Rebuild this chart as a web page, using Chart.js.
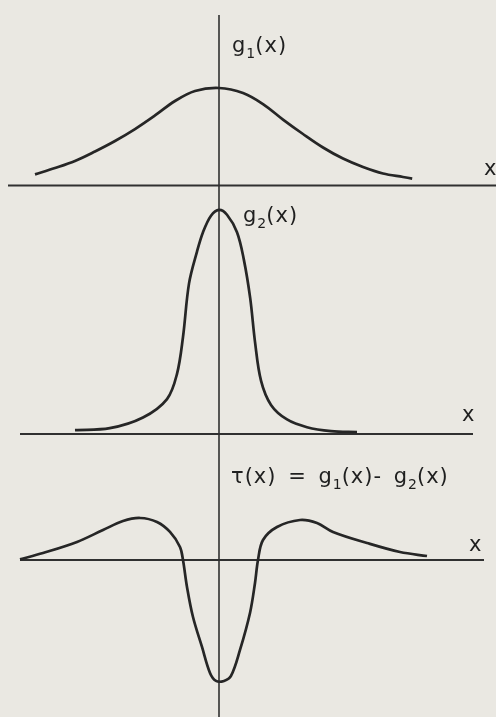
<!DOCTYPE html>
<html>
<head>
<meta charset="utf-8">
<script src="https://cdn.jsdelivr.net/npm/chart.js@4/dist/chart.umd.min.js"></script>
<style>
  html, body { margin: 0; padding: 0; background: #eae8e2; }
  #page { position: relative; width: 496px; height: 717px; overflow: hidden; background: #eae8e2; }
  canvas { position: absolute; left: 0; }
  .lbl { position: absolute; font-family: "DejaVu Sans", sans-serif; font-size: 21px; letter-spacing: 1px; color: #1f1f1f; white-space: nowrap; line-height: 1; }
  .lbl sub { font-size: 14px; vertical-align: -6px; letter-spacing: 0; }
</style>
</head>
<body>
<div id="page">
  <canvas id="c1" width="496" height="200" style="top:0px"></canvas>
  <canvas id="c2" width="496" height="250" style="top:200px"></canvas>
  <canvas id="c3" width="496" height="267" style="top:450px"></canvas>

  <div class="lbl" style="left:232px; top:35px">g<sub>1</sub>(x)</div>
  <div class="lbl" style="left:484px; top:158px">x</div>
  <div class="lbl" style="left:243px; top:205px">g<sub>2</sub>(x)</div>
  <div class="lbl" style="left:462px; top:404px">x</div>
  <div class="lbl" style="left:231px; top:466px; word-spacing:4px">τ(x) = g<sub>1</sub>(x)- g<sub>2</sub>(x)</div>
  <div class="lbl" style="left:469px; top:534px">x</div>
</div>
<script>
// g1(x) - broad bell curve
const g1X = [-4.6, -4.1, -3.6, -3.1, -2.6, -2.1, -1.6, -1.1, -0.6, 0, 0.6, 1.1, 1.6, 2.1, 2.6, 3.1, 3.6, 4.1, 4.6, 4.83];
const g1Y = [0.115, 0.18, 0.253, 0.351, 0.459, 0.582, 0.722, 0.871, 0.974, 1.005, 0.954, 0.84, 0.68, 0.531, 0.392, 0.278, 0.191, 0.124, 0.088, 0.072];

// g2(x) - narrow peak
const g2X = [-3.6, -2.73, -1.9, -1.3, -1.05, -0.9, -0.75, -0.55, -0.4, -0.2, 0, 0.2, 0.45, 0.62, 0.78, 0.9, 1.05, 1.3, 1.7, 2.2, 2.8, 3.45];
const g2Y = [0.04, 0.06, 0.17, 0.36, 0.62, 1.0, 1.55, 1.88, 2.08, 2.25, 2.31, 2.26, 2.08, 1.80, 1.40, 0.95, 0.55, 0.30, 0.15, 0.07, 0.03, 0.02];

// tau(x) = g1(x) - g2(x)
const tauX = [-4.975, -4.4, -3.55, -2.9, -2.4, -1.975, -1.55, -1.225, -0.975, -0.9, -0.8, -0.65, -0.425, -0.225, -0.075, 0.125, 0.3, 0.525, 0.775, 0.9, 0.975, 1.1, 1.45, 2.025, 2.45, 2.85, 3.7, 4.525, 5.2];
const tauY = [0.007, 0.072, 0.186, 0.309, 0.402, 0.433, 0.392, 0.289, 0.134, 0, -0.278, -0.588, -0.897, -1.165, -1.247, -1.247, -1.196, -0.928, -0.546, -0.237, 0, 0.206, 0.34, 0.412, 0.381, 0.289, 0.175, 0.082, 0.041];

const X_MIN = -5.475, X_MAX = 6.925;
const INK = '#262626';

// draws the x and y axes through the origin
const axesPlugin = {
  id: 'axes',
  beforeDatasetsDraw(chart, args, opts) {
    const { ctx, scales: { x, y } } = chart;
    const y0 = y.getPixelForValue(0);
    const x0 = x.getPixelForValue(0);
    ctx.save();
    ctx.strokeStyle = '#303030';
    ctx.lineWidth = 2;
    ctx.beginPath();
    ctx.moveTo(x.getPixelForValue(opts.from), y0);
    ctx.lineTo(x.getPixelForValue(opts.to), y0);
    ctx.stroke();
    ctx.lineWidth = 1.6;
    ctx.beginPath();
    ctx.moveTo(x0, opts.top != null ? y.getPixelForValue(opts.top) : 0);
    ctx.lineTo(x0, chart.height);
    ctx.stroke();
    ctx.restore();
  }
};

function makePanel(id, xs, ys, yMin, yMax, axisOpts) {
  const ctx = document.getElementById(id).getContext('2d');
  return new Chart(ctx, {
    type: 'scatter',
    data: {
      datasets: [{
        data: xs.map((v, i) => ({ x: v, y: ys[i] })),
        showLine: true,
        borderColor: INK,
        borderWidth: 2.7,
        pointRadius: 0,
        tension: 0.35,
        clip: false
      }]
    },
    options: {
      responsive: false,
      animation: false,
      events: [],
      layout: { padding: 0 },
      scales: {
        x: { type: 'linear', min: X_MIN, max: X_MAX, display: false },
        y: { type: 'linear', min: yMin, max: yMax, display: false }
      },
      plugins: {
        legend: { display: false },
        tooltip: { enabled: false },
        axes: axisOpts
      }
    },
    plugins: [axesPlugin]
  });
}

makePanel('c1', g1X, g1Y, -0.149, 1.912, { from: -5.275, to: 6.925, top: 1.758 });
makePanel('c2', g2X, g2Y, -0.165, 2.412, { from: -4.975, to: 6.35 });
makePanel('c3', tauX, tauY, -1.619, 1.134, { from: -4.975, to: 6.625 });
</script>
</body>
</html>
